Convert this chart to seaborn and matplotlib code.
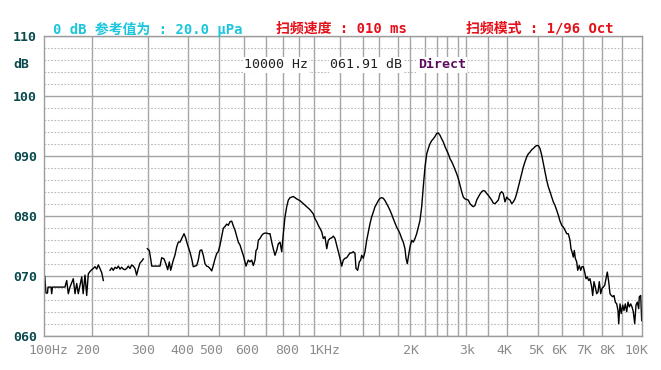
import numpy as np
import pandas as pd
import matplotlib
matplotlib.use("Agg")
import matplotlib.pyplot as plt
from matplotlib.transforms import offset_copy
import seaborn as sns

nan = np.nan

# ---------------- data ----------------
# frequency (Hz) and level (dB); nan marks a gap in the trace
freq_hz = [
    101, 103.5, 106.7, 107.7, 114, 115.4, 117, 143, 146.7, 150,
    153.5, 160.4, 164, 167.5, 170.8, 178, 181, 184.8, 188.3, 191.7,
    195.2, 198.8, 201.8, 204.9, 208, 210.8, 213.9, 217, 219.9, nan,
    231.9, 235, 237.9, 241, 244, 247, 250, 253, 256, 259,
    262, 265, 268, 271, 274, 277, 280, 283, 286, 289,
    292, nan,
    299.3, 304, 308, 310, 330.8, 335, 340.8, 345.8, 350, 354,
    357.5, 364, 368, 372.5, 376.5, 380.8, 385, 390.8, 395, 399,
    407.3, 412.7, 417.7, 423, 428.5, 433.5, 438.9, 444.3, 449.4, 454.7,
    460, 465, 470.6, 475.9, 481, 486.4, 491.8, 496.8, 502.8, 509.6,
    516, 522.8, 529.6, 536, 542.8, 549.6, 556, 562.8, 569.6, 576,
    583, 589.6, 596, 603.2, 607.8, 618.4, 626.3, 634, 641.5, 649.3,
    654, 660, 664.5, 672.3, 680, 687.6, 695.4, 704, 713.3, 723,
    733, 742, 752, 761.6, 771, 781, 790.8, 800, 810.8, 821.7,
    831.9, 842.7, 863.7, 885.3, 906.5, 928, 950.3, 971.9, 993.5, 1005,
    1019, 1031, 1044, 1058, 1070, 1083, 1097, 1109, 1122, 1135,
    1148, 1161, 1174, 1187, 1200, 1215, 1229, 1244, 1259, 1273,
    1288, 1303, 1317, 1332, 1341, 1356, 1370, 1382, 1391, 1407,
    1428, 1449, 1469, 1490, 1510, 1530, 1551, 1572, 1591, 1610,
    1628, 1645, 1663, 1680, 1696, 1714, 1732, 1748, 1766, 1783,
    1800, 1829, 1858, 1885, 1914, 1932, 1954, 1971, 2000, 2023,
    2044, 2067, 2089, 2111, 2133, 2156, 2177, 2200, 2230, 2258,
    2287, 2316, 2344, 2374, 2404, 2435, 2469, 2502, 2533, 2567,
    2600, 2628, 2657, 2686, 2714, 2743, 2772, 2800, 2844, 2888,
    2930, 2974, 3016, 3052, 3091, 3129, 3166, 3204, 3243, 3279,
    3318, 3357, 3393, 3432, 3470, 3508, 3553, 3597, 3639, 3684,
    3729, 3771, 3816, 3860, 3902, 3947, 3992, 4042, 4097, 4152,
    4203, 4258, 4313, 4365, 4420, 4474, 4526, 4581, 4635, 4687,
    4742, 4797, 4848, 4903, 4958, 5013, 5083, 5154, 5221, 5292,
    5363, 5430, 5500, 5571, 5638, 5709, 5780, 5846, 5917, 5988,
    6062, 6143, 6224, 6300, 6381, 6428, 6476, 6538, 6586, 6633,
    6700, 6748, 6824, 6890, 6952, 7016, 7089, 7158, 7226, 7300,
    7368, 7458, 7510, 7579, 7647, 7721, 7789, 7858, 7932, 8000,
    8065, 8135, 8200, 8265, 8335, 8400, 8465, 8535, 8600, 8665,
    8735, 8800, 8835, 8900, 8965, 9035, 9100, 9165, 9235, 9300,
    9365, 9435, 9500, 9565, 9635, 9700, 9765, 9835, 9865, 9935,
    9985,
]
level_db = [
    70.0, 67.2, 67.2, 68.2, 68.2, 67.1, 68.2, 68.2, 69.3, 67.1,
    68.2, 69.6, 67.1, 68.8, 67.1, 69.9, 67.1, 70.2, 66.8, 70.4,
    70.8, 71.1, 71.3, 71.6, 71.2, 71.9, 71.3, 70.6, 69.3, nan,
    71.0, 71.4, 71.0, 71.5, 71.3, 71.7, 71.2, 71.5, 71.2, 71.1,
    71.3, 71.7, 71.3, 71.9, 71.7, 71.3, 70.2, 71.3, 72.2, 72.5,
    72.9, nan,
    74.6, 74.3, 72.7, 71.7, 71.7, 73.1, 72.9, 72.0, 71.1, 72.4,
    71.0, 72.7, 73.5, 74.9, 75.7, 75.7, 76.3, 77.1, 76.4, 75.4,
    74.0, 72.9, 71.6, 71.7, 71.8, 72.7, 74.3, 74.4, 73.5, 72.1,
    71.7, 71.6, 71.3, 70.9, 71.8, 72.9, 73.8, 74.1, 75.2, 76.6,
    78.0, 78.3, 78.7, 78.5, 79.1, 79.2, 78.4, 77.7, 76.7, 75.7,
    75.2, 74.3, 73.5, 72.4, 71.7, 72.7, 72.4, 72.7, 71.8, 72.7,
    74.3, 74.6, 76.0, 76.3, 76.8, 77.1, 77.2, 77.2, 77.1, 77.1,
    75.7, 74.6, 73.5, 74.3, 75.4, 75.7, 74.1, 77.1, 79.9, 81.6,
    82.7, 83.1, 83.3, 82.9, 82.6, 82.1, 81.6, 81.1, 80.4, 79.6,
    79.1, 78.5, 78.0, 77.4, 76.3, 76.6, 74.6, 76.0, 76.3, 76.4,
    76.7, 76.3, 75.2, 74.1, 73.0, 71.7, 72.7, 73.0, 73.1, 73.5,
    73.9, 73.9, 74.1, 73.8, 71.3, 71.0, 72.4, 72.7, 73.5, 73.0,
    74.1, 76.0, 77.4, 78.8, 79.9, 80.7, 81.6, 82.1, 82.6, 83.0,
    83.1, 83.0, 82.6, 82.1, 81.6, 81.0, 80.3, 79.6, 78.9, 78.2,
    77.7, 77.1, 76.3, 75.7, 74.6, 73.0, 72.1, 73.2, 74.9, 76.0,
    75.7, 76.3, 77.1, 78.2, 79.3, 81.6, 84.9, 88.2, 90.4, 91.3,
    92.1, 92.6, 92.9, 93.3, 93.8, 93.9, 93.5, 92.9, 92.4, 91.6,
    91.0, 90.4, 89.6, 89.1, 88.5, 87.8, 87.1, 86.3, 85.2, 84.1,
    83.2, 82.9, 82.8, 82.7, 82.1, 81.8, 81.6, 81.8, 82.7, 83.2,
    83.7, 84.1, 84.3, 84.2, 83.8, 83.5, 83.1, 82.7, 82.2, 82.1,
    82.4, 82.7, 83.8, 84.1, 83.8, 82.4, 83.2, 82.9, 82.7, 82.1,
    82.4, 82.9, 83.8, 84.9, 86.0, 87.1, 88.2, 89.1, 89.9, 90.4,
    90.7, 91.1, 91.3, 91.6, 91.8, 91.8, 91.3, 90.2, 88.8, 87.4,
    86.0, 84.9, 84.1, 83.2, 82.4, 81.8, 81.0, 80.2, 79.2, 78.5,
    78.2, 77.7, 77.1, 77.1, 76.0, 74.6, 74.1, 73.2, 74.3, 73.0,
    72.4, 71.0, 71.8, 71.0, 71.6, 71.6, 70.7, 69.6, 69.9, 69.3,
    69.6, 68.2, 66.8, 69.1, 68.2, 67.1, 67.4, 69.1, 67.1, 68.0,
    68.2, 68.5, 69.6, 70.7, 69.1, 67.1, 66.8, 66.6, 66.8, 65.7,
    65.4, 64.3, 62.1, 65.4, 63.8, 65.2, 64.3, 65.4, 64.1, 65.7,
    64.9, 65.4, 64.9, 64.1, 62.1, 65.2, 65.7, 64.6, 66.6, 66.8,
    62.6,
]
assert len(freq_hz) == len(level_db)

x_label_freqs = [100, 200, 300, 400, 500, 600, 800, 1000, 2000, 3000,
                 4000, 5000, 6000, 7000, 8000, 10000]
x_label_texts = ["100Hz", "200", "300", "400", "500", "600", "800", "1KHz",
                 "2K", "3k", "4K", "5K", "6K", "7K", "8K", "10K"]
grid_freqs = [200, 300, 400, 500, 600, 700, 800, 900, 1000, 1200, 1400,
              1600, 1800, 2000, 2200, 2400, 2600, 2800, 3000, 3500, 4000,
              5000, 6000, 7000, 8000, 9000]
y_major = [60, 70, 80, 90, 100, 110]
y_major_labels = ["060", "070", "080", "090", "100", "110"]
y_minor = [v for v in range(62, 110, 2) if v % 10]

header_ref = "0 dB 参考值为 : 20.0 μPa"
header_speed = "扫频速度 : 010 ms"
header_mode = "扫频模式 : 1/96 Oct"
cursor_freq = "10000 Hz"
cursor_level = "061.91 dB"
cursor_mode = "Direct"

# ---------------- instrument axis geometry (layout) ----------------
knot_freqs = [100, 200, 300, 400, 500, 600, 700, 800, 900, 1000, 1200, 1400,
              1600, 1800, 2000, 2200, 2400, 2600, 2800, 3000, 3500, 4000,
              5000, 6000, 7000, 8000, 9000, 10000]
knot_pos = [44.3, 92.3, 147.7, 187.7, 219.3, 244.3, 266, 283.3, 299, 314.3,
            340, 362.7, 379, 398.3, 410, 425, 436.5, 446.7, 458.3, 466,
            488, 507, 538, 562, 583, 602, 622, 642]
label_dx = [3.7, -4, -4.4, -5.4, -8.3, 3.2, 3.4, 9.7, 0.8, 0.7,
            -3, -2, -3, 1, 5.5, -5.3]


def fwd(f):
    return np.interp(np.asarray(f, dtype=float), knot_freqs, knot_pos)


def inv(p):
    return np.interp(np.asarray(p, dtype=float), knot_pos, knot_freqs)


W, H = 661, 370
L, R, T, B = 44.3, 642, 36.3, 336.3

fig = plt.figure(figsize=(W / 100, H / 100), dpi=100)
fig.patch.set_facecolor("white")
ax = fig.add_axes([L / W, 1 - B / H, (R - L) / W, (B - T) / H])
ax.set_xscale("function", functions=(fwd, inv))

df = pd.DataFrame({"freq": freq_hz, "level": level_db})
df["seg"] = df["level"].isna().cumsum()
df = df.dropna()
sns.lineplot(data=df, x="freq", y="level", units="seg", estimator=None,
             sort=False, color="black", linewidth=1.0, ax=ax, legend=False)

ax.set_xlim(100, 10000)
ax.set_ylim(60, 110)
ax.set_xlabel("")
ax.set_ylabel("")
ax.set_axisbelow(True)

ax.set_xticks(grid_freqs)
ax.set_xticks([], minor=True)
ax.set_yticks(y_major)
ax.set_yticks(y_minor, minor=True)
ax.grid(axis="x", which="major", color="#a4a4a4", linewidth=1.0)
ax.grid(axis="y", which="major", color="#a4a4a4", linewidth=1.0)
ax.grid(axis="y", which="minor", color="#b8b8b8", linewidth=0.8,
        linestyle=(0, (1.5, 1.5)))
ax.tick_params(axis="both", which="both", length=0)
ax.tick_params(axis="x", labelbottom=False)
mono = ["DejaVu Sans Mono", "Noto Sans CJK SC"]
ax.set_yticklabels(y_major_labels, fontfamily="DejaVu Sans Mono",
                   fontweight="bold", fontsize=9.5, color="#0b4a4e")
ax.tick_params(axis="y", pad=5.3)
for s in ax.spines.values():
    s.set_color("#9c9c9c")
    s.set_linewidth(1.0)

# x labels (instrument places them with small offsets)
base = ax.get_xaxis_transform()
for f, t, dx in zip(x_label_freqs, x_label_texts, label_dx):
    tr = offset_copy(base, fig=fig, x=dx, y=0, units="dots")
    ax.text(f, -0.049, t, transform=tr, ha="center", va="center",
            fontfamily="DejaVu Sans Mono", fontsize=9.5, color="#8c8c8c",
            clip_on=False)

fig.text(13 / W, 1 - 65 / H, "dB", ha="left", va="center",
         fontfamily="DejaVu Sans Mono", fontweight="bold", fontsize=9.5,
         color="#0b4a4e")

fig.text(53 / W, 1 - 29 / H, header_ref, ha="left", va="center",
         fontfamily=mono, fontweight="bold", fontsize=10, color="#1cc6dc")
fig.text(276 / W, 1 - 29 / H, header_speed, ha="left", va="center",
         fontfamily=mono, fontweight="bold", fontsize=10, color="#e4101a")
fig.text(466 / W, 1 - 29 / H, header_mode, ha="left", va="center",
         fontfamily=mono, fontweight="bold", fontsize=10, color="#e4101a")

box = dict(facecolor="white", edgecolor="none", pad=1.0)
fig.text(244 / W, 1 - 65 / H, cursor_freq, ha="left", va="center",
         fontfamily="DejaVu Sans Mono", fontsize=9.5, color="#202020", bbox=box)
fig.text(330 / W, 1 - 65 / H, cursor_level, ha="left", va="center",
         fontfamily="DejaVu Sans Mono", fontsize=9.5, color="#202020", bbox=box)
fig.text(418 / W, 1 - 65 / H, cursor_mode, ha="left", va="center",
         fontfamily="DejaVu Sans Mono", fontweight="bold", fontsize=9.5,
         color="#5c0a5c", bbox=box)

fig.savefig("out.png", dpi=100, facecolor="white")
